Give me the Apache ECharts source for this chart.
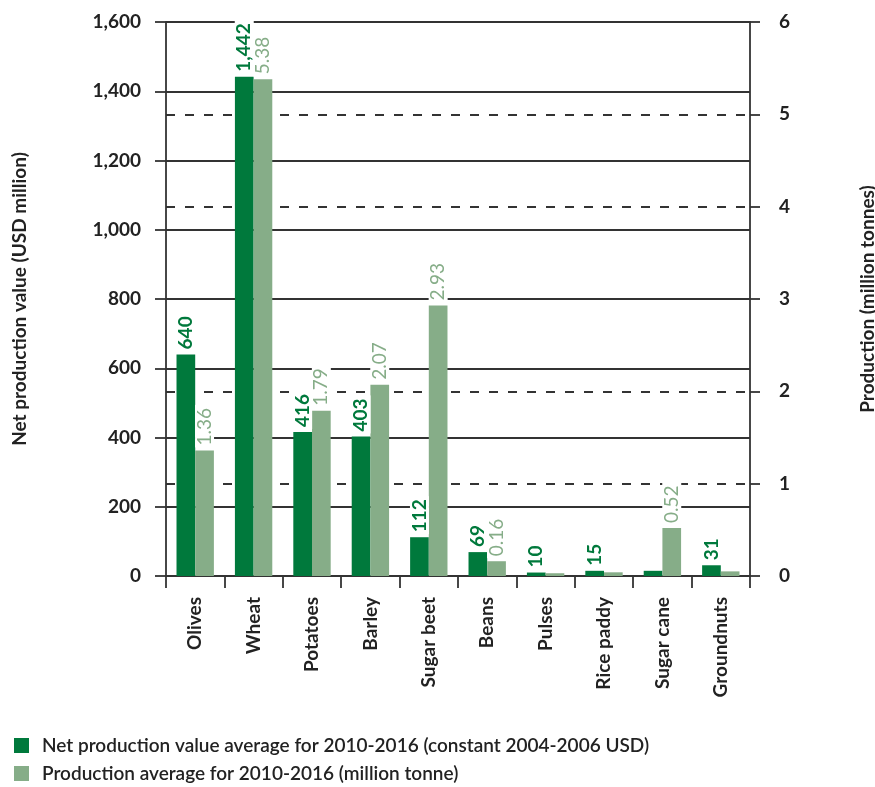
<!DOCTYPE html>
<html>
<head>
<meta charset="utf-8">
<script src="https://cdn.jsdelivr.net/npm/echarts@6/dist/echarts.min.js"></script>
<style>
  html, body { margin: 0; padding: 0; background: #fff; }
  #chart { width: 875px; height: 787px; }
</style>
</head>
<body>
<div id="chart"></div>
<script>
// Crops and their 2010-2016 averages
const crops = ['Olives', 'Wheat', 'Potatoes', 'Barley', 'Sugar beet', 'Beans', 'Pulses', 'Rice paddy', 'Sugar cane', 'Groundnuts'];
const netValue = [640, 1442, 416, 403, 112, 69, 10, 15, 15, 31];          // USD million
const production = [1.36, 5.38, 1.79, 2.07, 2.93, 0.16, 0.03, 0.04, 0.52, 0.05]; // million tonnes
const unlabelledValue = ['Sugar cane'];
const unlabelledProduction = ['Pulses', 'Rice paddy', 'Groundnuts'];

const leftTicks = { min: 0, max: 1600, interval: 200 };
const rightTicks = { min: 0, max: 6, interval: 1 };

const seriesNames = [
  'Net production value average for 2010-2016 (constant 2004-2006 USD)',
  'Production average for 2010-2016 (million tonne)'
];

const DARK = '#00793c';
const LIGHT = '#86ad88';
const INK = '#222';
const RULE = '#333';
const FONT = 'Lato';
const SIZE = 19;

function barLabel(color, weight, fmt) {
  return {
    show: true,
    position: 'top',
    rotate: 90,
    align: 'left',
    verticalAlign: 'middle',
    distance: 3,
    color: color,
    fontFamily: FONT,
    fontWeight: weight,
    fontSize: SIZE,
    backgroundColor: '#fff',
    padding: [0, 3, 0, 2],
    formatter: fmt
  };
}

function legendBlock(name, top) {
  return {
    left: 9,
    top: top,
    itemWidth: 15,
    itemHeight: 15,
    icon: 'rect',
    textStyle: { color: INK, fontFamily: FONT, fontSize: 19, fontWeight: 600, padding: [0, 0, 0, 8] },
    data: [name]
  };
}

const chart = echarts.init(document.getElementById('chart'), null, { renderer: 'canvas' });

chart.setOption({
  animation: false,
  textStyle: { fontFamily: FONT },
  grid: { left: 166, right: 125, top: 22, bottom: 211, containLabel: false, outerBoundsMode: 'none' },
  legend: [
    legendBlock(seriesNames[0], 731),
    legendBlock(seriesNames[1], 759)
  ],
  xAxis: {
    type: 'category',
    data: crops,
    boundaryGap: true,
    axisLine: { lineStyle: { color: RULE, width: 1.8 } },
    axisTick: { show: true, length: 12, lineStyle: { color: RULE, width: 1.8 } },
    axisLabel: {
      rotate: 90,
      margin: 21,
      color: INK,
      fontFamily: FONT,
      fontWeight: 'bold',
      fontSize: SIZE
    },
    splitLine: { show: false }
  },
  yAxis: [
    {
      type: 'value',
      min: leftTicks.min,
      max: leftTicks.max,
      interval: leftTicks.interval,
      name: 'Net production value (USD million)',
      nameLocation: 'middle',
      nameRotate: 90,
      nameGap: 137,
      nameTextStyle: { color: INK, fontFamily: FONT, fontWeight: 'bold', fontSize: SIZE },
      axisLine: { show: true, lineStyle: { color: RULE, width: 1.8 } },
      axisTick: { show: true, length: 11, lineStyle: { color: RULE, width: 1.8 } },
      axisLabel: {
        margin: 25,
        color: INK,
        fontFamily: FONT,
        fontWeight: 'bold',
        fontSize: SIZE,
        formatter: v => v.toLocaleString('en-US')
      },
      splitLine: { show: true, lineStyle: { color: RULE, width: 1.8 } }
    },
    {
      type: 'value',
      position: 'right',
      min: rightTicks.min,
      max: rightTicks.max,
      interval: rightTicks.interval,
      name: 'Production (million tonnes)',
      nameLocation: 'middle',
      nameRotate: 90,
      nameGap: 108,
      nameTextStyle: { color: INK, fontFamily: FONT, fontWeight: 'bold', fontSize: SIZE },
      axisLine: { show: true, lineStyle: { color: RULE, width: 1.8 } },
      axisTick: { show: true, length: 10, lineStyle: { color: RULE, width: 1.8 } },
      axisLabel: {
        margin: 29,
        color: INK,
        fontFamily: FONT,
        fontWeight: 'bold',
        fontSize: SIZE
      },
      splitLine: { show: true, lineStyle: { color: RULE, width: 2, type: [9, 10] } }
    }
  ],
  series: [
    {
      name: seriesNames[0],
      type: 'bar',
      yAxisIndex: 0,
      barWidth: '32%',
      barGap: '0%',
      itemStyle: { color: DARK },
      label: barLabel(DARK, 'bold', p => p.value.toLocaleString('en-US')),
      z: 3,
      data: netValue.map((v, i) => unlabelledValue.includes(crops[i])
        ? { value: v, label: { show: false } } : v)
    },
    {
      name: seriesNames[1],
      type: 'bar',
      yAxisIndex: 1,
      barWidth: '32%',
      barGap: '0%',
      itemStyle: { color: LIGHT },
      label: barLabel(LIGHT, 'normal', p => p.value.toFixed(2)),
      z: 3,
      data: production.map((v, i) => unlabelledProduction.includes(crops[i])
        ? { value: v, label: { show: false } } : v)
    }
  ]
});
</script>
</body>
</html>
